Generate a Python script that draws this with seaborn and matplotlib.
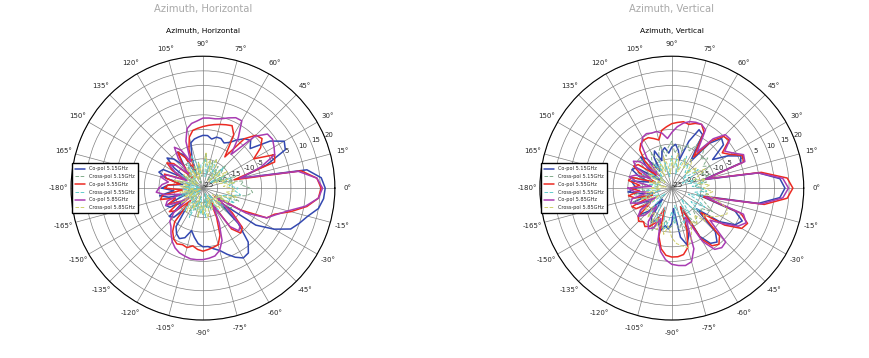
"""Antenna azimuth patterns, horizontal and vertical"""
import matplotlib
matplotlib.use('Agg')
import matplotlib.pyplot as plt
import seaborn as sns
import numpy as np

sns.set_theme(style='white')
plt.rcParams['font.family'] = ['DejaVu Sans']
plt.rcParams['axes.unicode_minus'] = False

# measured angles (deg), -180 .. 175 every 5 deg
ANGLES = list(range(-180, 180, 5))

# ---- Azimuth, Horizontal (dB) ----
h_co_515 = [
    -11, -15, -10, -13, -19, -11, -12, -17, -10, -11, -16, -9,
    -7, -6, -7, -10, -8, -6, -5, -5, -4, -3, -1, 1,
    2.5, 2, -1, -8, -18, -3, 3, 8, 10, 12, 15, 16.3,
    16.7, 15.5, 11, -12, -2, 6, 7, 3, -4, -2, -3, -5,
    -7, -8, -7, -7, -8, -7, -7, -7.5, -8, -9, -14, -20,
    -12, -10, -15, -11, -9, -13, -19, -10, -9, -12, -18, -13]
h_x_515 = [
    -20, -23, -19, -22, -18, -24, -20, -17, -21, -19, -23, -18,
    -16, -20, -17, -22, -15, -19, -16, -21, -18, -23, -17, -20,
    -15, -19, -22, -14, -18, -13, -16, -20, -12, -15, -10, -8,
    -9, -12, -11, -16, -13, -19, -15, -21, -17, -14, -19, -16,
    -22, -18, -15, -20, -17, -13, -18, -21, -16, -19, -23, -17,
    -20, -15, -19, -22, -18, -21, -17, -23, -19, -16, -21, -18]
h_co_555 = [
    -12, -18, -11, -10, -15, -12, -16, -11, -13, -19, -10, -7,
    -5, -4, -4.5, -4, -5, -4, -3.5, -4, -4.5, -5, -8, -14,
    -20, -8, -5, -6, -12, -20, -10, -1, 1, 6, 11, 14.5,
    15.3, 14, 9, -14, 1, 2, -5, -1, 1.3, 0.5, -3, -12,
    -4, -1.5, -2, -2.5, -3, -3.5, -4, -4.5, -5, -7, -11, -18,
    -13, -10, -14, -20, -12, -10, -13, -18, -11, -12, -17, -13]
h_x_555 = [
    -21, -18, -23, -19, -16, -22, -20, -17, -24, -19, -15, -21,
    -18, -14, -20, -17, -22, -16, -19, -15, -21, -18, -23, -17,
    -20, -16, -22, -19, -15, -20, -17, -13, -18, -15, -12, -14,
    -13, -16, -14, -18, -15, -20, -17, -22, -18, -15, -21, -17,
    -19, -14, -18, -16, -21, -15, -16.5, -17, -20, -16, -13, -19,
    -15, -17, -21, -18, -23, -19, -16, -22, -18, -20, -24, -19]
h_co_585 = [
    -10, -9, -12, -17, -12, -11, -15, -19, -12, -9, -8, -6,
    -4, -2.5, -1.5, -1, -0.5, -0.5, -0.6, -1, -1.5, -3, -6, -12,
    -18, -9, -6, -7, -14, -19, -8, -1, 1.5, 5, 10.5, 14.5,
    15.8, 14, 8, -12, -4, 2, 3, 4, 3.7, 0, -10, -4,
    1.5, 1.5, 0.5, -0.5, -1, -1, -1.1, -2, -2.6, -4, -8, -15,
    -10, -8, -12, -18, -13, -11, -14, -19, -12, -10, -13, -11]
h_x_585 = [
    -19, -22, -17, -20, -24, -18, -21, -16, -20, -23, -18, -15,
    -19, -17, -22, -18, -15, -20, -16, -19, -14, -18, -21, -17,
    -22, -18, -16, -20, -17, -21, -15, -19, -16, -13, -17, -14,
    -15, -18, -14, -19, -16, -21, -18, -15, -20, -17, -22, -18,
    -16, -14, -19, -15, -17, -13, -18, -20, -16, -21, -17, -22,
    -18, -21, -16, -20, -23, -17, -19, -22, -18, -15, -20, -17]

# ---- Azimuth, Vertical (dB) ----
v_co_515 = [
    -13, -10, -14, -19, -11, -12, -17, -12, -11, -14, -20, -13,
    -11, -14, -12, -10, -12, -11, -13, -18, -8, -5, -8, -18,
    -6, -2, -1, -4, -14, -5, 0, 1.5, -2, -15, 5, 12,
    13.6, 12, 5, -14, 0, 1, -3, -8, -2, -1, -5, -14,
    -4, -3, -8, -15, -12, -10, -11, -13, -11, -12, -15, -11,
    -13, -18, -12, -10, -14, -20, -11, -10, -13, -17, -11, -12]
v_x_515 = [
    -13, -16, -12, -15, -11, -14, -17, -12, -10, -13, -16, -11,
    -12, -9, -13, -10, -14, -11, -12, -15, -10, -13, -9, -12,
    -14, -10, -12, -15, -11, -13, -9, -12, -14, -16, -12, -15,
    -14, -17, -13, -15, -11, -14, -10, -12, -9, -11, -8, -10,
    -8, -11, -9, -12, -10, -13, -9, -11, -14, -10, -12, -15,
    -11, -13, -16, -12, -10, -14, -17, -12, -15, -11, -13, -16]
v_co_555 = [
    -11, -14, -10, -12, -18, -10, -11, -16, -10, -9, -10, -9,
    -10, -12, -18, -8, -4, -2, -1.5, -1.5, -2, -4, -10, -18,
    -5, -1, 0, -2, -12, -3, 2.5, 3.5, 0, -14, 7, 14.5,
    16.3, 14.5, 6, -13, 1, 1.5, -2, -4, 0.5, 0, -4, -12,
    -3, -1, -1.5, -2.5, -2, -2.5, -3, -4, -5, -8, -7, -6,
    -6, -6.5, -8, -12, -18, -11, -10, -13, -19, -11, -10, -14]
v_x_555 = [
    -19, -16, -21, -17, -14, -20, -18, -15, -22, -17, -13, -19,
    -16, -12, -18, -15, -11, -14, -17, -13, -19, -15, -12, -16,
    -18, -14, -20, -16, -13, -17, -12, -15, -19, -14, -17, -13,
    -15, -18, -14, -19, -16, -21, -17, -14, -20, -16, -18, -15,
    -17, -13, -16, -20, -15, -18, -14, -17, -21, -16, -19, -15,
    -18, -15, -20, -17, -22, -16, -19, -14, -18, -21, -17, -20]
v_co_585 = [
    -10, -12, -17, -11, -10, -13, -19, -12, -10, -12, -17, -11,
    -9, -10, -14, -7, -3, -0.5, 1, 1.5, 1.8, 1, -3, -14,
    -4, 0.5, 1.5, 1, -8, -4, 1, 3, 1, -13, 6, 13,
    14.8, 13, 5, -13, 1.5, 2, -1, -3, 1, 0.8, -3, -10,
    -2, -1, -1.1, -1.5, -2.5, -4, -6, -8, -6, -5, -5, -4.5,
    -5, -7, -12, -19, -11, -9, -11, -17, -12, -10, -13, -18]
v_x_585 = [
    -18, -21, -16, -19, -14, -17, -20, -15, -13, -16, -12, -15,
    -11, -14, -10, -13, -9, -12, -8, -6, -5, -4, -6, -9,
    -12, -10, -13, -9, -11, -8, -6, -4.2, -5, -9, -13, -11,
    -14, -12, -16, -13, -17, -15, -12, -16, -14, -18, -15, -13,
    -17, -14, -19, -16, -13, -18, -15, -20, -17, -14, -19, -16,
    -20, -17, -15, -19, -22, -18, -16, -21, -19, -17, -23, -20]

LABELS = ['Co-pol 5.15GHz', 'Cross-pol 5.15GHz', 'Co-pol 5.55GHz',
          'Cross-pol 5.55GHz', 'Co-pol 5.85GHz', 'Cross-pol 5.85GHz']
COLORS = ['#3348b0', '#82ad8c', '#ec2a22', '#62cccc', '#a83cb2', '#cfcf6a']
STYLES = ['-', '--', '-', '--', '-', '--']

R_MIN, R_MAX = -25, 20


def draw_pattern(ax, series, title):
    theta = np.deg2rad(ANGLES + [180])
    for vals, lab, col, ls in zip(series, LABELS, COLORS, STYLES):
        r = list(vals) + [vals[0]]
        lw = 1.1 if ls == '-' else 0.7
        sns.lineplot(x=theta, y=r, ax=ax, sort=False, estimator=None,
                     color=col, linestyle=ls, lw=lw, label=lab)

    ax.set_ylim(R_MIN, R_MAX)
    ax.set_rticks(list(range(R_MIN, R_MAX + 1, 5)))
    ax.set_rlabel_position(22.5)
    deg = list(range(0, 360, 15))
    ax.set_thetagrids(deg, [f'{d if d < 180 else d - 360}°' for d in deg])
    ax.tick_params(axis='x', labelsize=5, pad=-4)
    ax.tick_params(axis='y', labelsize=5)
    ax.grid(True, color='#808080', lw=0.5)
    ax.spines['polar'].set_color('black')
    ax.spines['polar'].set_linewidth(0.8)

    ax.text(0.5, 1.095, title, transform=ax.transAxes, ha='center',
            va='center', fontsize=5.4, color='black')
    ax.legend(loc='center left', bbox_to_anchor=(0.004, 0.5), fontsize=3.6,
              frameon=True, fancybox=False, edgecolor='black', framealpha=1,
              borderpad=0.6, labelspacing=0.55, handlelength=2.0,
              borderaxespad=0)


fig = plt.figure(figsize=(8.7, 3.58), dpi=100)
ax1 = fig.add_axes([0.0816, 0.106, 0.3034, 0.737], projection='polar')
ax2 = fig.add_axes([0.6205, 0.106, 0.3034, 0.737], projection='polar')

draw_pattern(ax1, [h_co_515, h_x_515, h_co_555, h_x_555, h_co_585, h_x_585],
             'Azimuth, Horizontal')
draw_pattern(ax2, [v_co_515, v_x_515, v_co_555, v_x_555, v_co_585, v_x_585],
             'Azimuth, Vertical')

fig.text(0.233, 0.975, 'Azimuth, Horizontal', ha='center', va='center',
         fontsize=7.2, color='#a9a9a9')
fig.text(0.772, 0.975, 'Azimuth, Vertical', ha='center', va='center',
         fontsize=7.2, color='#a9a9a9')

fig.savefig('out.png', dpi=100, facecolor='white')
